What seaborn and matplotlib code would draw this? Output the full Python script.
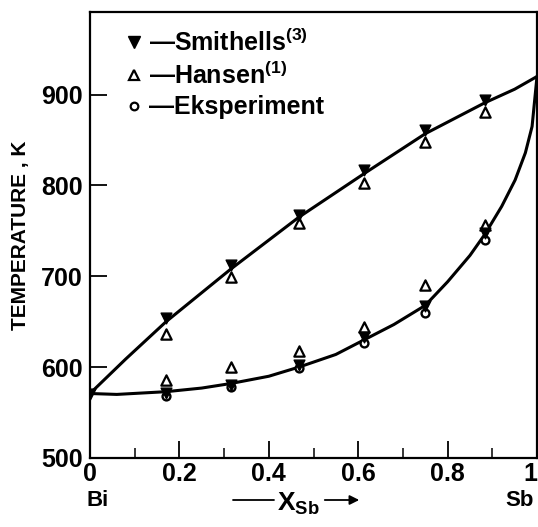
import matplotlib
matplotlib.use("Agg")
import matplotlib.pyplot as plt
from matplotlib.lines import Line2D
import seaborn as sns
import pandas as pd

# ---- data ----
x_pts = [0.17, 0.315, 0.467, 0.613, 0.75, 0.883]
smithells_liq = [654, 713, 767, 817, 861, 894]
hansen_liq = [636, 699, 759, 803, 848, 881]
smithells_sol = [572, 580, 602, 633, 667, 748]
hansen_sol = [586, 600, 618, 644, 690, 757]
eksp_sol = [568, 578, 599, 627, 660, 740]
x_bi = [0.0]
t_bi = [571]

liq_x = [0.0, 0.08, 0.17, 0.315, 0.467, 0.613, 0.75, 0.883, 0.95, 1.0]
liq_t = [571, 609, 650, 708, 765, 813, 857, 891, 906, 920]
sol_x = [0.0, 0.06, 0.17, 0.25, 0.315, 0.4, 0.467, 0.55, 0.613, 0.68, 0.75, 0.8,
         0.85, 0.883, 0.921, 0.951, 0.974, 0.989, 1.0]
sol_t = [571, 570, 573, 577, 582, 590, 600, 614, 630, 647, 668, 694,
         723, 746, 777, 806, 836, 865, 920]

yticks = [500, 600, 700, 800, 900]
xticks = [0, 0.2, 0.4, 0.6, 0.8, 1.0]
xticklabels = ["0", "0.2", "0.4", "0.6", "0.8", "1"]

sns.set_style("ticks")
plt.rcParams["font.family"] = ["Liberation Sans", "DejaVu Sans"]
plt.rcParams["font.weight"] = "bold"
plt.rcParams["text.color"] = "black"
plt.rcParams["axes.labelcolor"] = "black"
plt.rcParams["mathtext.fontset"] = "custom"
plt.rcParams["mathtext.rm"] = "Liberation Sans:bold"
plt.rcParams["mathtext.it"] = "Liberation Sans:bold"
plt.rcParams["mathtext.bf"] = "Liberation Sans:bold"

W, H = 538, 527
fig = plt.figure(figsize=(W / 100, H / 100), dpi=100)
ax = fig.add_axes([90 / W, 1 - 458 / H, (537 - 90) / W, (458 - 12) / H])

liq = pd.DataFrame({"x": liq_x, "T": liq_t})
sol = pd.DataFrame({"x": sol_x, "T": sol_t})
sns.lineplot(data=liq, x="x", y="T", ax=ax, color="black", lw=2.2,
             estimator=None, sort=False)
sns.lineplot(data=sol, x="x", y="T", ax=ax, color="black", lw=2.2,
             estimator=None, sort=False)

ek = pd.DataFrame({"x": x_pts, "T": eksp_sol})
ha = pd.DataFrame({"x": x_pts + x_pts, "T": hansen_liq + hansen_sol})
sm = pd.DataFrame({"x": x_bi + x_pts + x_pts, "T": t_bi + smithells_liq + smithells_sol})

sns.scatterplot(data=ek, x="x", y="T", ax=ax, marker="o", s=32,
                facecolor="white", edgecolor="black", linewidth=1.7, zorder=3)
sns.scatterplot(data=ha, x="x", y="T", ax=ax, marker="^", s=55,
                facecolor="white", edgecolor="black", linewidth=1.6, zorder=4)
sns.scatterplot(data=sm, x="x", y="T", ax=ax, marker="v", s=60,
                color="black", edgecolor="black", linewidth=1.0, zorder=5)

ax.set_xlim(0, 1.0)
ax.set_ylim(500, 991)
ax.set_xticks(xticks)
ax.set_xticklabels(xticklabels)
ax.set_xticks([0.1, 0.3, 0.5, 0.7, 0.9], minor=True)
ax.set_yticks(yticks)
ax.tick_params(axis="both", which="major", direction="in", length=12, width=1.3,
               labelsize=18, colors="black")
ax.tick_params(axis="x", which="major", pad=3)
ax.tick_params(axis="y", which="major", pad=5)
ax.tick_params(axis="x", which="minor", direction="in", length=7, width=1.3)
ax.get_xticklabels()[-1].set_horizontalalignment("right")
for sp in ax.spines.values():
    sp.set_linewidth(1.6)
    sp.set_color("black")

ax.set_xlabel("")
ax.set_ylabel("TEMPERATURE , K", fontsize=15, fontweight="bold", labelpad=8)

# legend
handles = [
    Line2D([], [], marker="v", ls="", color="black", markersize=8),
    Line2D([], [], marker="^", ls="", markerfacecolor="white", markeredgecolor="black",
           markeredgewidth=1.6, markersize=7),
    Line2D([], [], marker="o", ls="", markerfacecolor="white", markeredgecolor="black",
           markeredgewidth=1.6, markersize=5.5),
]
labels = ["\u2014Smithells$^{(3)}$", "\u2014Hansen$^{(1)}$", "\u2014Eksperiment"]
ax.legend(handles, labels, loc="upper left", bbox_to_anchor=(0.06, 0.985),
          frameon=False, fontsize=18, handlelength=0.6, handletextpad=0.3,
          labelspacing=0.25, borderaxespad=0)

# bottom annotations
fig.text(98 / W, 1 - 500 / H, "Bi", fontsize=16, fontweight="bold", ha="center", va="center")
fig.text(520 / W, 1 - 500 / H, "Sb", fontsize=16, fontweight="bold", ha="center", va="center")
fig.text(298 / W, 1 - 504 / H, "X$_{\\mathrm{Sb}}$", fontsize=19, ha="center", va="center")
fig.add_artist(Line2D([233 / W, 274 / W], [1 - 500 / H, 1 - 500 / H], color="black", lw=1.3))
ax.annotate("", xy=(362 / W, 1 - 500 / H), xytext=(322 / W, 1 - 500 / H),
            xycoords="figure fraction", textcoords="figure fraction",
            arrowprops=dict(arrowstyle="-|>", color="black", lw=1.3, mutation_scale=14))

fig.savefig("out.png", dpi=100, facecolor="white")
